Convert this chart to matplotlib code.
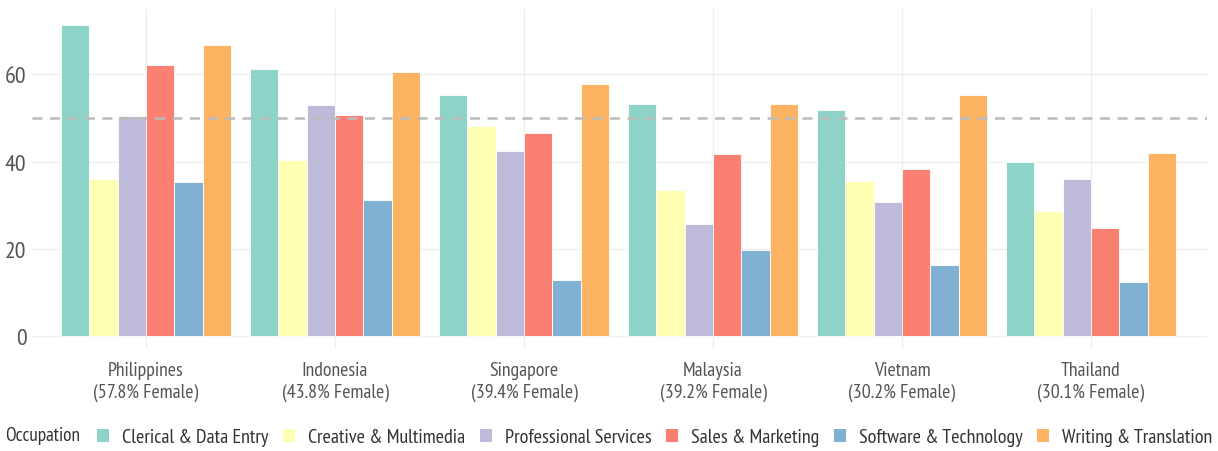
import matplotlib.pyplot as plt
import matplotlib.font_manager as fm
from matplotlib.textpath import TextPath
import numpy as np
from matplotlib.patches import Patch

# ---- DATA ----
countries = ["Philippines", "Indonesia", "Singapore", "Malaysia", "Vietnam", "Thailand"]
female_pct = [57.8, 43.8, 39.4, 39.2, 30.2, 30.1]
occupations = ["Clerical & Data Entry", "Creative & Multimedia", "Professional Services",
               "Sales & Marketing", "Software & Technology", "Writing & Translation"]
clerical = [71.3, 61.3, 55.3, 53.3, 51.9, 40.0]
creative = [36.1, 40.3, 48.2, 33.5, 35.5, 28.7]
professional = [50.5, 53.0, 42.4, 25.7, 30.7, 35.9]
sales = [62.2, 50.6, 46.6, 41.7, 38.2, 24.7]
software = [35.3, 31.2, 12.9, 19.7, 16.2, 12.4]
writing = [66.8, 60.5, 57.7, 53.2, 55.3, 41.9]
parity_line = 50
y_ticks = [0, 20, 40, 60]

series = [clerical, creative, professional, sales, software, writing]
colors = ["#8dd3c7", "#ffffb3", "#bebada", "#fb8072", "#80b1d3", "#fdb462"]

# ---- FONT ----
names = {f.name for f in fm.fontManager.ttflist}
prefs = ["PT Sans Narrow", "Roboto Condensed", "Fira Sans Condensed"]
font = next((p for p in prefs if p in names), "DejaVu Sans")
plt.rcParams["font.family"] = [font, "DejaVu Sans"]
plt.rcParams["font.weight"] = "normal"


def size_for(text, px):
    # font size (pt) that makes text about px pixels wide at dpi 100
    fp = fm.FontProperties(family=font, weight="normal")
    w = TextPath((0, 0), text, size=10, prop=fp).get_extents().width
    return 10 * px / (w * 100 / 72)


lab_size = size_for("(57.8% Female)", 104)
leg_size = size_for("Clerical & Data Entry", 145)
title_size = size_for("Occupation", 73)
txt = "#555555"

# ---- PLOT ----
fig = plt.figure(figsize=(12.18, 4.52), dpi=100)
ax = fig.add_axes([0.0263, 0.2257, 0.9647, 0.7523])

x = np.arange(len(countries))
width = 0.15
for i, (vals, col, name) in enumerate(zip(series, colors, occupations)):
    ax.bar(x + (i - 2.5) * width, vals, width, color=col, edgecolor="white",
           linewidth=0.6, label=name, zorder=2)

ax.axhline(parity_line, color="#bbbbbb", linestyle=(0, (4, 3)), linewidth=1.8, zorder=3)

ax.set_xlim(-0.603, 5.614)
ax.set_ylim(-3, 75)
ax.set_yticks(y_ticks)
ax.set_xticks(x)
ax.set_xticklabels([f"{c}\n({p}% Female)" for c, p in zip(countries, female_pct)],
                   fontsize=lab_size, color=txt, linespacing=1.25)
ax.tick_params(axis="y", labelsize=lab_size * 1.2, labelcolor=txt, length=0, pad=4)
ax.tick_params(axis="x", length=0, pad=9)
ax.grid(True, color="#eeeeee", linewidth=1, zorder=0)
ax.set_axisbelow(True)
for s in ax.spines.values():
    s.set_visible(False)

# ---- LEGEND ----
handles = [Patch(facecolor=c, edgecolor="none") for c in colors]
fig.text(0.004, 0.035, "Occupation", fontsize=title_size, color="#333333", va="center")
fig.legend(handles, occupations, loc="center left", bbox_to_anchor=(0.0796, 0.03),
           ncol=6, frameon=False, fontsize=leg_size, handlelength=0.6, handleheight=0.6,
           handletextpad=0.65, columnspacing=0.72, labelcolor="#333333",
           borderaxespad=0, borderpad=0)

fig.savefig("out.png", dpi=100)
